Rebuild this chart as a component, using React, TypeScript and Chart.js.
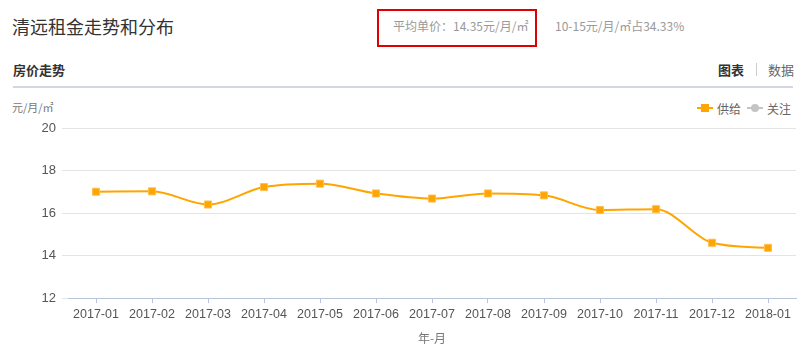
import React, { useEffect, useRef } from "react";
import { Chart, registerables } from "chart.js";

Chart.register(...registerables);

const categories = [
  "2017-01", "2017-02", "2017-03", "2017-04", "2017-05", "2017-06", "2017-07",
  "2017-08", "2017-09", "2017-10", "2017-11", "2017-12", "2018-01",
];
const supplyValues = [17.0, 17.02, 16.4, 17.22, 17.38, 16.92, 16.68, 16.92, 16.83, 16.14, 16.18, 14.6, 14.36];
const attentionValues: (number | null)[] = [];
const seriesNames = ["供给", "关注"];
const seriesColors = ["#ffa500", "#c4c4c4"];
const yMin = 12;
const yMax = 20;
const yStep = 2;

const CJK = '"Noto Sans CJK SC", "Liberation Sans", sans-serif';
const LAT = '"Liberation Sans", Arial, sans-serif';

export default function App() {
  const ref = useRef<HTMLCanvasElement | null>(null);

  useEffect(() => {
    if (!ref.current) return;
    const chart = new Chart(ref.current, {
      type: "line",
      data: {
        labels: categories,
        datasets: [
          {
            label: seriesNames[0],
            data: supplyValues,
            borderColor: seriesColors[0],
            backgroundColor: seriesColors[0],
            borderWidth: 2,
            cubicInterpolationMode: "monotone",
            pointStyle: "rect",
            pointRadius: 5,
            pointBorderWidth: 1,
            pointBorderColor: "rgba(255,190,80,0.9)",
            pointBackgroundColor: seriesColors[0],
          },
          {
            label: seriesNames[1],
            data: attentionValues,
            borderColor: seriesColors[1],
            backgroundColor: seriesColors[1],
          },
        ],
      },
      options: {
        animation: false,
        responsive: false,
        maintainAspectRatio: false,
        layout: { padding: { top: 28, right: 9, left: 0, bottom: 0 } },
        plugins: { legend: { display: false }, tooltip: { enabled: false } },
        scales: {
          x: {
            offset: true,
            grid: {
              display: true,
              drawOnChartArea: false,
              drawTicks: true,
              tickLength: 5,
              color: "#b9c6da",
              offset: false,
            },
            border: { display: true, color: "#b9c6da", width: 1 },
            ticks: {
              color: "#555",
              font: { family: LAT, size: 12.5 },
              padding: 4,
              maxRotation: 0,
              autoSkip: false,
            },
            title: {
              display: true,
              text: "年-月",
              color: "#777",
              font: { family: CJK, size: 12 },
              padding: { top: 4, bottom: 7 },
            },
            afterFit: (s: any) => {
              s.height = 55;
            },
          },
          y: {
            min: yMin,
            max: yMax,
            ticks: {
              stepSize: yStep,
              color: "#555",
              font: { family: LAT, size: 13 },
              padding: 6,
            },
            grid: { color: "#e4e4e4", drawTicks: true, tickLength: 6 },
            border: { display: false },
            afterFit: (s: any) => {
              s.width = 68;
            },
          },
        },
      },
    });
    return () => chart.destroy();
  }, []);

  return (
    <div
      style={{
        position: "absolute",
        left: 0,
        top: 0,
        width: 805,
        height: 353,
        background: "#fff",
        overflow: "hidden",
        fontFamily: CJK,
      }}
    >
      <div style={{ position: "absolute", left: 12, top: 13, fontSize: 18, color: "#333", lineHeight: "26px", whiteSpace: "nowrap" }}>
        清远租金走势和分布
      </div>
      <div
        style={{
          position: "absolute",
          left: 377,
          top: 9,
          width: 156,
          height: 34,
          border: "2px solid #e00000",
        }}
      />
      <div style={{ position: "absolute", left: 393, top: 17, fontSize: 12, color: "#999", lineHeight: "18px", whiteSpace: "nowrap" }}>
        平均单价：14.35元/月/㎡
      </div>
      <div style={{ position: "absolute", left: 555, top: 17, fontSize: 12, color: "#999", lineHeight: "18px", whiteSpace: "nowrap" }}>
        10-15元/月/㎡占34.33%
      </div>
      <div style={{ position: "absolute", left: 13, top: 61, fontSize: 13, fontWeight: "bold", color: "#333", lineHeight: "18px", whiteSpace: "nowrap" }}>
        房价走势
      </div>
      <div style={{ position: "absolute", left: 718, top: 61, fontSize: 13, fontWeight: "bold", color: "#333", lineHeight: "18px", whiteSpace: "nowrap" }}>
        图表
      </div>
      <div style={{ position: "absolute", left: 756, top: 63, width: 1, height: 13, background: "#ccc" }} />
      <div style={{ position: "absolute", left: 768, top: 61, fontSize: 13, color: "#666", lineHeight: "18px", whiteSpace: "nowrap" }}>
        数据
      </div>
      <div style={{ position: "absolute", left: 13, top: 86, width: 780, height: 2, background: "#d3d7e3" }} />
      <div style={{ position: "absolute", left: 12, top: 99, fontSize: 11, color: "#777", lineHeight: "16px", whiteSpace: "nowrap" }}>
        元/月/㎡
      </div>
      <div style={{ position: "absolute", left: 697, top: 99, height: 18, display: "flex", alignItems: "center", whiteSpace: "nowrap" }}>
        {seriesNames.map((name, i) => (
          <div key={name} style={{ display: "flex", alignItems: "center", marginRight: i === 0 ? 6 : 0 }}>
            <div style={{ position: "relative", width: 16, height: 10 }}>
              <div style={{ position: "absolute", left: 0, top: 4, width: 16, height: 2, background: seriesColors[i] }} />
              <div
                style={{
                  position: "absolute",
                  left: 4,
                  top: 1,
                  width: 8,
                  height: 8,
                  background: seriesColors[i],
                  borderRadius: i === 0 ? 0 : 4,
                }}
              />
            </div>
            <span style={{ marginLeft: 4, fontSize: 12, color: "#666" }}>{name}</span>
          </div>
        ))}
      </div>
      <canvas ref={ref} width={805} height={253} style={{ position: "absolute", left: 0, top: 100, width: 805, height: 253 }} />
    </div>
  );
}
